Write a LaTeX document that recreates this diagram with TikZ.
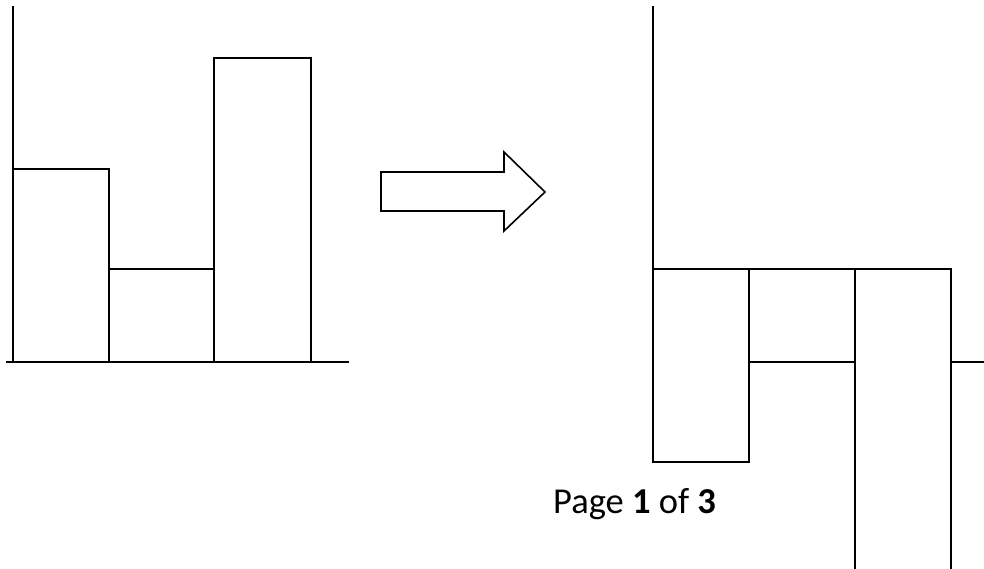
\documentclass[tikz,border=0pt]{standalone}
\usepackage{fontspec}
\setmainfont{Carlito}
\begin{document}
\begin{tikzpicture}[x=1pt,y=-1pt,
  barline/.style={line width=2.2pt,line cap=rect,line join=miter},
  arrowshape/.style={line width=1.6pt,line join=miter}]
\useasboundingbox (0,0) rectangle (984,569);
% left histogram
\coordinate (LaxTop) at (13,7);
\coordinate (LaxOrg) at (13,362);
\coordinate (LaxL) at (6,362);
\coordinate (LaxR) at (349,362);
\draw[barline] (LaxTop) -- (LaxOrg);
\draw[barline,line cap=butt] (LaxL) -- (LaxR);
\draw[barline] (13,362) rectangle (109,169);
\draw[barline] (109,362) rectangle (214,269);
\draw[barline] (214,362) rectangle (311,58);
% block arrow
\draw[arrowshape] (381,172) -- (504,172) -- (504,152) -- (545,192) -- (504,231) -- (504,211) -- (381,211) -- cycle;
% right histogram
\coordinate (RaxTop) at (653,7);
\coordinate (RaxOrg) at (653,269);
\draw[barline] (RaxTop) -- (RaxOrg);
\draw[barline] (653,269) rectangle (749,462);
\draw[barline] (749,269) rectangle (855,362);
\draw[barline,line cap=butt] (855,580) -- (855,269) -- (951,269) -- (951,580);
\coordinate (RaxA) at (951,362);
\coordinate (RaxB) at (990,362);
\draw[barline,line cap=butt] (RaxA) -- (RaxB);
% caption
\node[anchor=base west,inner sep=0pt,font=\fontsize{36.5}{42}\selectfont] (pg) at (553,513) {Page \textbf{1} of \textbf{3}};
\end{tikzpicture}
\end{document}
